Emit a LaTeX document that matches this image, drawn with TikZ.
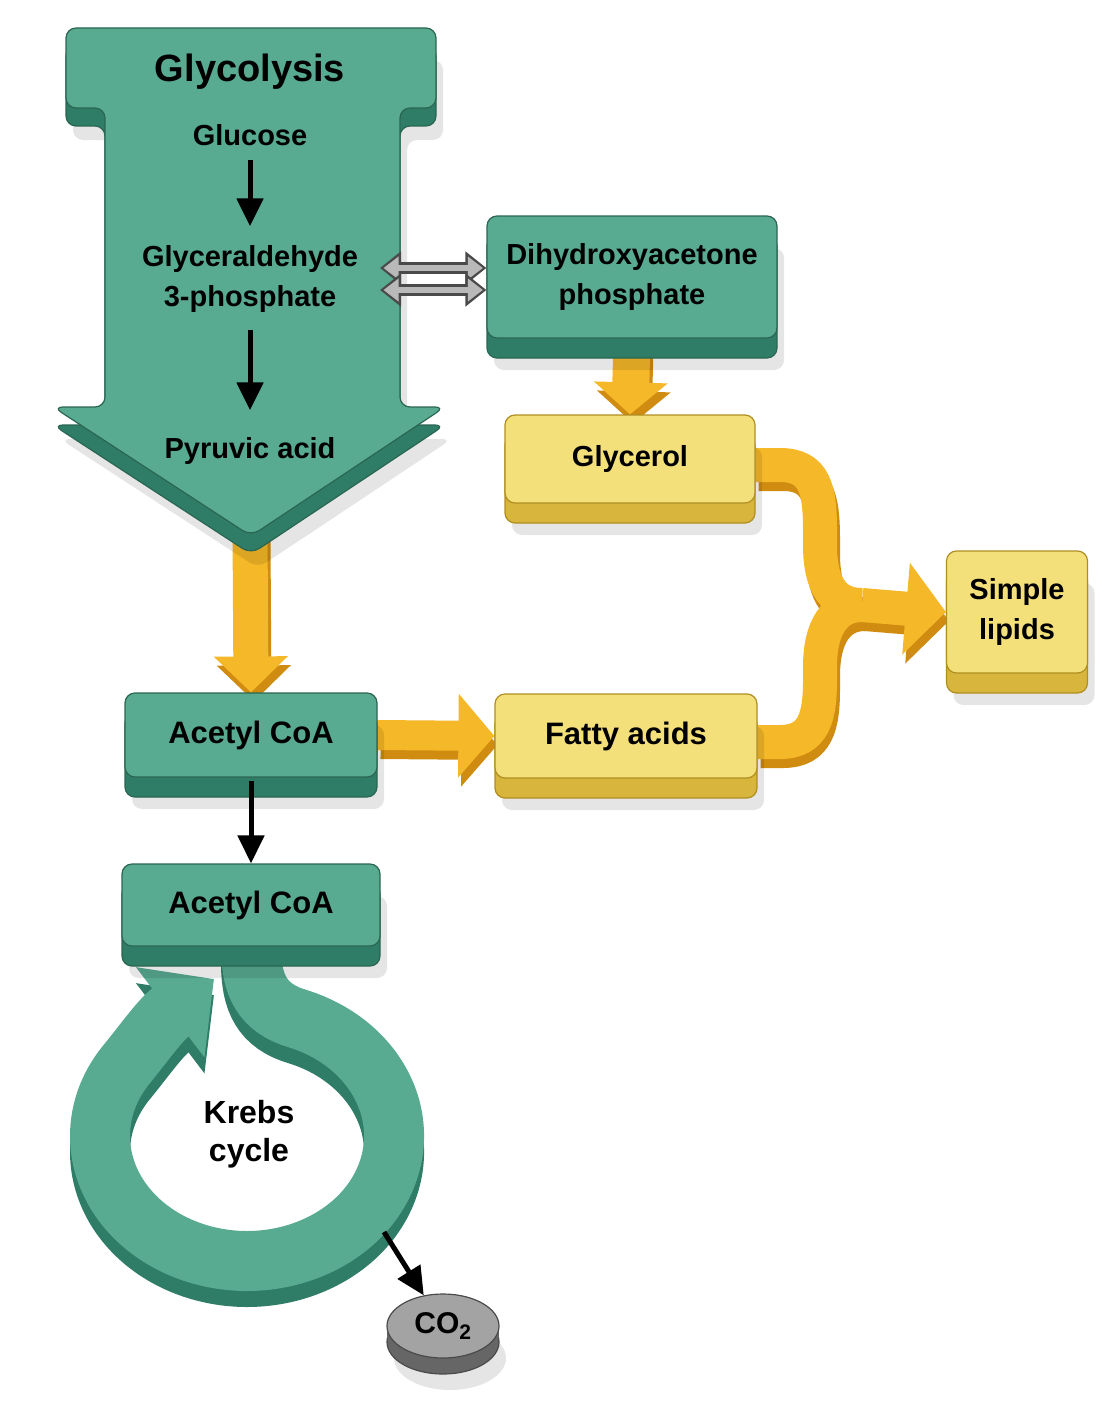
\documentclass[tikz,border=0pt]{standalone}
\usepackage{fontspec}
\setmainfont{Liberation Sans}
\usetikzlibrary{arrows.meta,calc,shapes.geometric}
\definecolor{tface}{HTML}{58AB91}
\definecolor{tside}{HTML}{2F7D66}
\definecolor{tedge}{HTML}{2A6652}
\definecolor{yface}{HTML}{F4E07A}
\definecolor{yside}{HTML}{D8B53C}
\definecolor{yedge}{HTML}{B08E22}
\definecolor{oface}{HTML}{F5B829}
\definecolor{osidec}{HTML}{CF8C10}
\definecolor{gface}{HTML}{A3A3A3}
\definecolor{gsidec}{HTML}{666666}
\definecolor{gedge}{HTML}{4A4A4A}
\pgfdeclarelayer{bg}
\pgfsetlayers{bg,main}
\newcommand{\fsz}[2]{\fontsize{#1}{#2}\selectfont}
\tikzset{
  lbl/.style={font=\bfseries\fsz{29}{40}, align=center, text=black, inner sep=0pt},
  shadowed/.style={preaction={fill=black, opacity=0.10, transform canvas={xshift=7pt,yshift=-32pt}}},
  tealbox/.style={rectangle, rounded corners=10pt, line width=1.2pt, lbl, fill=tface, draw=tedge, shadowed,
     preaction={fill=tside, draw=tedge, transform canvas={yshift=-20pt}}},
  yellowbox/.style={rectangle, rounded corners=10pt, line width=1.2pt, lbl, fill=yface, draw=yedge, shadowed,
     preaction={fill=yside, draw=yedge, transform canvas={yshift=-20pt}}},
  obarface/.style={line width=#1, draw=oface},
  obarside/.style={line width=#1, draw=osidec, transform canvas={xshift=3pt,yshift=-9pt}},
  blk/.style={line width=5pt, draw=black, -{Triangle[length=28pt,width=26pt]}},
  gout/.style={line width=12pt, draw=gedge, {Triangle[length=21pt,width=32pt]}-{Triangle[length=21pt,width=32pt]}},
  gin/.style={line width=6pt, draw=gray!55, shorten <=3.5pt, shorten >=3.5pt, {Triangle[length=15pt,width=22pt]}-{Triangle[length=15pt,width=22pt]}},
}
\begin{document}
\begin{tikzpicture}[x=1pt,y=-1pt]
\useasboundingbox (0,0) rectangle (1116,1410);
\begin{pgfonlayer}{bg}
\fill[white] (0,0) rectangle (1116,1410);
\end{pgfonlayer}

% Glycolysis big arrow
\fill[black, opacity=0.10, rounded corners=10pt, xshift=7pt, yshift=-32pt]
  (66,28) -- (436,28) -- (436,108) -- (400,108) -- (400,407) -- (445,407) -- (251,536) -- (53,407) -- (105,407) -- (105,108) -- (66,108) -- cycle;
\filldraw[fill=tside, draw=tedge, line width=1.2pt, rounded corners=10pt, yshift=-18pt]
  (66,28) -- (436,28) -- (436,108) -- (400,108) -- (400,407) -- (445,407) -- (251,536) -- (53,407) -- (105,407) -- (105,108) -- (66,108) -- cycle;
\filldraw[fill=tface, draw=tedge, line width=1.2pt, rounded corners=10pt]
  (66,28) -- (436,28) -- (436,108) -- (400,108) -- (400,407) -- (445,407) -- (251,536) -- (53,407) -- (105,407) -- (105,108) -- (66,108) -- cycle;
\coordinate (glytip) at (250,530);

\node[lbl, font=\bfseries\fsz{38}{44}] (gtitle) at (250,72) {Glycolysis};
\node[lbl] (glucose) at (250,135) {Glucose};
\node[lbl] (g3p) at (250,279) {Glyceraldehyde\\3-phosphate};
\node[lbl] (pyr) at (250,451) {Pyruvic acid};

% boxes
\node[tealbox, minimum width=290pt, minimum height=122pt] (dhap) at (632,277) {Dihydroxyacetone\\phosphate};
\node[yellowbox, minimum width=250pt, minimum height=88pt] (glyc) at (630,459) {Glycerol};
\node[yellowbox, minimum width=262pt, minimum height=84pt, font=\bfseries\fsz{31}{40}] (fatty) at (626,736) {Fatty acids};
\node[yellowbox, minimum width=141pt, minimum height=122pt] (lipids) at (1017,612) {Simple\\lipids};
\node[tealbox, minimum width=252pt, minimum height=84pt, font=\bfseries\fsz{31}{40}] (acoa1) at (251,735) {Acetyl CoA};
\node[tealbox, minimum width=258pt, minimum height=82pt, font=\bfseries\fsz{31}{40}] (acoa2) at (251,905) {Acetyl CoA};
\node[lbl, font=\bfseries\fsz{32}{38}] (krebs) at (249,1134) {Krebs\\cycle};
\node[ellipse, minimum width=112pt, minimum height=64pt, line width=1.2pt, fill=gface, draw=gedge, lbl, font=\bfseries\fsz{30}{34},
  shadowed,
  preaction={fill=gsidec, draw=gedge, transform canvas={yshift=-16pt}},
  preaction={fill=gsidec, transform canvas={yshift=-8pt}}] (co2) at (443,1326) {CO\textsubscript{2}};

\coordinate (rexit) at (384,1232);
\coordinate (gx1) at (380,268);
\coordinate (gx2) at (380,290);
\coordinate (mj) at (862,605);

% connectors behind
\begin{pgfonlayer}{bg}
% Krebs ring
\foreach \col/\sh in {tside/-16pt, tface/0pt}{
\draw[line width=60pt, draw=\col, transform canvas={yshift=\sh}, -{Triangle[length=55pt,width=110pt]}]
  (acoa2.south) .. controls (251,985) and (262,1008) .. (297.3,1018.5)
  arc[start angle=-70, end angle=215, x radius=147, y radius=125]
  .. controls (145.6,1041) and (160,1020) .. (214,979);
}
% orange arrows: sides
\draw[obarside=35pt, -{Triangle[length=36pt,width=72pt]}] (glytip) -- (acoa1.north);
\draw[obarside=37pt, -{Triangle[length=32pt,width=72pt]}] (dhap.south) -- (glyc.north);
\draw[obarside=30pt, -{Triangle[length=36pt,width=82pt]}] (acoa1.east) -- (fatty.west);
\draw[obarside=34pt] ([yshift=-6pt]glyc.east) -- (780,465) .. controls (815,465) and (820,490) .. (820,530)
  -- (820,545) .. controls (820,587) and (835,605) .. (mj);
\draw[obarside=34pt] ([yshift=-6pt]fatty.east) -- (780,742) .. controls (815,742) and (820,715) .. (820,680)
  -- (820,667) .. controls (820,627) and (835,605) .. (mj);
\draw[obarside=34pt, -{Triangle[length=40pt,width=90pt]}] (mj) -- (lipids.west);
% orange arrows: faces
\draw[obarface=35pt, -{Triangle[length=36pt,width=72pt]}] (glytip) -- (acoa1.north);
\draw[obarface=37pt, -{Triangle[length=32pt,width=72pt]}] (dhap.south) -- (glyc.north);
\draw[obarface=30pt, -{Triangle[length=36pt,width=82pt]}] (acoa1.east) -- (fatty.west);
\draw[obarface=34pt] ([yshift=-6pt]glyc.east) -- (780,465) .. controls (815,465) and (820,490) .. (820,530)
  -- (820,545) .. controls (820,587) and (835,605) .. (mj);
\draw[obarface=34pt] ([yshift=-6pt]fatty.east) -- (780,742) .. controls (815,742) and (820,715) .. (820,680)
  -- (820,667) .. controls (820,627) and (835,605) .. (mj);
\draw[obarface=34pt, -{Triangle[length=40pt,width=90pt]}] (mj) -- (lipids.west);
\end{pgfonlayer}

% black arrows
\draw[blk, shorten <=14pt, shorten >=19pt] (glucose) -- (g3p);
\draw[blk, shorten <=17pt, shorten >=27pt] (g3p) -- (pyr);
\draw[blk, shorten <=3pt] (acoa1) -- (acoa2);
\draw[blk] (rexit) -- (co2);

% grey double arrows
\draw[gout] (gx1) -- (dhap.west |- gx1);
\draw[gin] (gx1) -- (dhap.west |- gx1);
\draw[gout] (gx2) -- (dhap.west |- gx2);
\draw[gin] (gx2) -- (dhap.west |- gx2);
\end{tikzpicture}
\end{document}
